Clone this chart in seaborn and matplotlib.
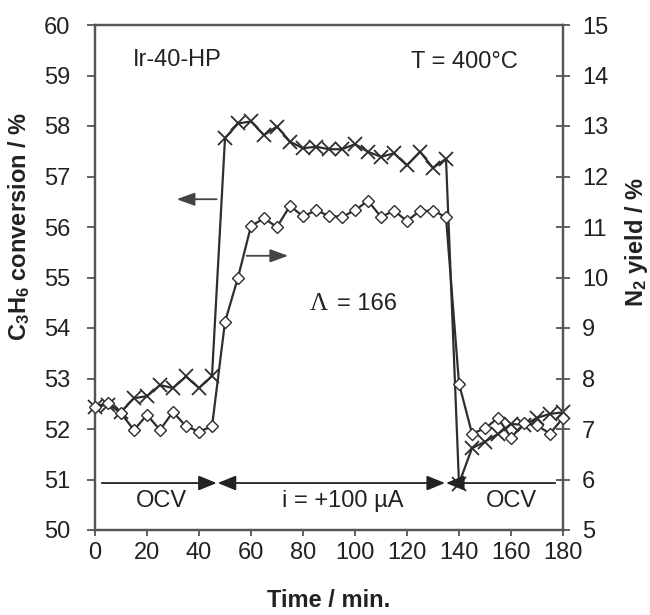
import matplotlib
matplotlib.use("Agg")
import matplotlib.pyplot as plt
import seaborn as sns
import pandas as pd

# data
time_min = [0, 5, 10, 15, 20, 25, 30, 35, 40, 45, 50, 55, 60, 65, 70, 75, 80, 85, 90,
            95, 100, 105, 110, 115, 120, 125, 130, 135, 140, 145, 150, 155, 160, 165,
            170, 175, 180]
c3h6_conversion = [52.44, 52.48, 52.34, 52.61, 52.65, 52.87, 52.81, 53.04, 52.81, 53.05,
                   57.76, 58.05, 58.09, 57.82, 57.99, 57.69, 57.56, 57.59, 57.54, 57.54,
                   57.64, 57.49, 57.39, 57.46, 57.22, 57.49, 57.17, 57.35, 50.92, 51.62,
                   51.75, 51.90, 52.10, 52.08, 52.22, 52.30, 52.33]
n2_yield = [7.44, 7.52, 7.31, 6.98, 7.28, 6.98, 7.34, 7.05, 6.95, 7.05,
            9.12, 10.0, 11.02, 11.17, 11.0, 11.42, 11.21, 11.33, 11.22, 11.2,
            11.33, 11.52, 11.2, 11.32, 11.12, 11.32, 11.32, 11.2, 7.9, 6.91,
            7.01, 7.22, 6.83, 7.11, 7.07, 6.91, 7.22]

left_ticks = [50, 51, 52, 53, 54, 55, 56, 57, 58, 59, 60]
right_ticks = [5, 6, 7, 8, 9, 10, 11, 12, 13, 14, 15]
x_ticks = [0, 20, 40, 60, 80, 100, 120, 140, 160, 180]

df = pd.DataFrame({"Time": time_min, "Conv": c3h6_conversion, "N2": n2_yield})

sns.set_style("ticks")
plt.rcParams["font.family"] = ["Liberation Sans", "DejaVu Sans"]
plt.rcParams["mathtext.fontset"] = "custom"
plt.rcParams["mathtext.rm"] = "Liberation Sans"
plt.rcParams["mathtext.bf"] = "Liberation Sans:bold"
plt.rcParams["mathtext.it"] = "Liberation Sans:italic"

LINE = "#2e2e2e"
SPINE = "#555555"
TXT = "#222222"
FS = 17

fig = plt.figure(figsize=(6.5, 6.15), dpi=100)
ax = fig.add_axes([95 / 650, 1 - 530 / 615, 468 / 650, 505 / 615])
ax2 = ax.twinx()

sns.lineplot(data=df, x="Time", y="Conv", ax=ax, color=LINE, linewidth=1.6,
             marker="x", markersize=10, markeredgewidth=1.3, markeredgecolor=LINE,
             clip_on=False, zorder=3)
sns.lineplot(data=df, x="Time", y="N2", ax=ax2, color=LINE, linewidth=1.6,
             marker="D", markersize=5.8, markeredgewidth=1.0, markerfacecolor="white",
             markeredgecolor=LINE, clip_on=False, zorder=3)

ax.set_xlim(0, 180)
ax.set_ylim(50, 60)
ax2.set_ylim(5, 15)
ax.set_xticks(x_ticks)
ax.set_yticks(left_ticks)
ax2.set_yticks(right_ticks)

for a in (ax, ax2):
    for s in a.spines.values():
        s.set_color(SPINE)
        s.set_linewidth(1.6)

ax.tick_params(axis="y", direction="out", length=6, width=1.3, color=SPINE,
               labelsize=FS, labelcolor=TXT, pad=12)
ax.tick_params(axis="x", direction="out", length=4.5, width=1.3, color=SPINE,
               labelsize=FS, labelcolor=TXT, pad=4)
ax2.tick_params(axis="y", direction="inout", length=9.5, width=1.3, color=SPINE,
                labelsize=FS, labelcolor=TXT, pad=9)

ax.set_xlabel("Time / min.", fontsize=FS, fontweight="bold", color=TXT)
ax.xaxis.set_label_coords(0.5, -0.117)
ax.set_ylabel(r"$\mathbf{C_3H_6}$ conversion / %", fontsize=FS, fontweight="bold", color=TXT)
ax.yaxis.set_label_coords(-0.135, 0.6)
ax2.set_ylabel(r"$\mathbf{N_2}$ yield / %", fontsize=FS, fontweight="bold", color=TXT,
               rotation=90)
ax2.yaxis.set_label_coords(1.128, 0.57)

# annotations
ax.text(14.7, 59.3, "Ir-40-HP", fontsize=FS, color=TXT, ha="left", va="center")
ax.text(162.7, 59.27, "T = 400°C", fontsize=FS, color=TXT, ha="right", va="center")
ax.text(82.7, 54.48, "Λ", fontsize=FS + 1, color=TXT, ha="left", va="center",
        family="Liberation Serif")
ax.text(93.0, 54.48, "= 166", fontsize=FS, color=TXT, ha="left", va="center")
ax.text(25.6, 50.57, "OCV", fontsize=FS, color=TXT, ha="center", va="center")
ax.text(95.4, 50.57, "i = +100 µA", fontsize=FS, color=TXT, ha="center", va="center")
ax.text(160.3, 50.57, "OCV", fontsize=FS, color=TXT, ha="center", va="center")

# pointer arrows for the two series
pointer = dict(arrowstyle="-|>,head_length=1.1,head_width=0.4", mutation_scale=10,
               color="#444444", lw=1.3, shrinkA=0, shrinkB=0)
ax.annotate("", xy=(31.4, 56.55), xytext=(46.8, 56.55), arrowprops=pointer)
ax.annotate("", xy=(74.3, 55.43), xytext=(58.3, 55.43), arrowprops=pointer)

# period markers along the bottom
period = dict(arrowstyle="-|>,head_length=1.1,head_width=0.45", mutation_scale=10,
              color="#222222", lw=1.3, shrinkA=0, shrinkB=0)
period2 = dict(arrowstyle="<|-|>,head_length=1.1,head_width=0.45", mutation_scale=10,
               color="#222222", lw=1.3, shrinkA=0, shrinkB=0)
ax.annotate("", xy=(46.8, 50.93), xytext=(2.6, 50.93), arrowprops=period)
ax.annotate("", xy=(134.6, 50.93), xytext=(47.2, 50.93), arrowprops=period2)
ax.annotate("", xy=(135.0, 50.93), xytext=(177.0, 50.93), arrowprops=period)

fig.savefig("out.png", dpi=100)
